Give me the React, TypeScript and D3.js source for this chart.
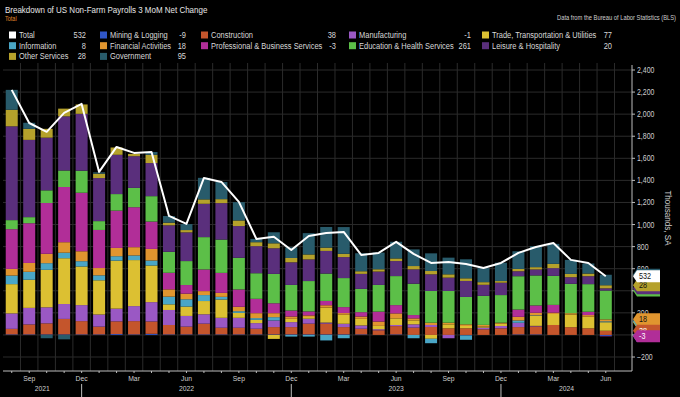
import * as d3 from "d3";

const months = ["Aug 2021","Sep 2021","Oct 2021","Nov 2021","Dec 2021","Jan 2022","Feb 2022","Mar 2022","Apr 2022","May 2022","Jun 2022","Jul 2022","Aug 2022","Sep 2022","Oct 2022","Nov 2022","Dec 2022","Jan 2023","Feb 2023","Mar 2023","Apr 2023","May 2023","Jun 2023","Jul 2023","Aug 2023","Sep 2023","Oct 2023","Nov 2023","Dec 2023","Jan 2024","Feb 2024","Mar 2024","Apr 2024","May 2024","Jun 2024"];

const total = [2220,1920,1840,2011,2093,1477,1703,1649,1658,1078,1006,1422,1386,1205,870,890,770,897,924,933,725,743,843,734,652,661,643,607,652,743,797,833,680,652,532];
const mining = [5,5,5,5,5,5,8,5,10,5,5,5,5,5,5,5,5,5,5,5,5,0,5,0,0,0,-5,0,0,5,5,0,0,0,-9];
const construction = [50,90,100,140,120,70,115,120,112,85,70,97,60,60,51,66,66,97,97,66,51,42,75,66,72,60,60,51,60,66,72,90,70,60,38];
const manufacturing = [140,150,145,135,145,110,115,136,175,136,97,85,90,90,51,60,45,45,10,30,30,10,10,30,18,-30,0,15,21,39,5,0,0,0,-1];
const trade = [265,255,340,415,350,310,435,417,332,51,85,120,166,45,30,-36,30,15,136,82,60,30,60,36,-35,36,21,10,21,0,90,100,115,105,77];
const information = [78,72,60,50,48,45,40,42,45,70,66,54,24,15,15,30,-15,-15,-50,-30,0,0,0,-30,-40,0,-39,0,0,21,5,0,0,0,8];
const financial = [60,80,85,95,90,66,75,75,105,66,51,36,36,40,45,36,21,15,21,15,21,39,45,18,21,15,15,15,9,33,24,12,12,15,18];
const professional = [360,360,460,500,530,345,338,362,248,150,78,196,181,157,130,90,54,36,39,54,39,90,75,30,0,0,0,0,0,66,66,70,0,30,-3];
const education = [82,55,115,150,200,80,150,175,230,190,217,293,302,287,232,266,232,275,248,263,211,242,263,284,287,287,248,263,250,302,272,263,266,250,261];
const leisure = [850,700,477,490,515,390,356,287,300,240,260,302,330,287,245,232,205,196,205,190,136,121,136,130,151,121,145,100,112,45,54,70,60,72,20];
const otherServices = [150,100,80,70,85,40,66,21,75,24,21,40,36,51,36,45,39,45,30,30,24,21,24,30,30,30,24,24,15,21,21,39,30,24,28];
const government = [180,55,-30,-40,0,12,0,0,25,60,54,195,155,166,30,100,97,193,187,242,163,151,151,151,160,151,172,127,166,160,190,181,127,91,95];

const series = [
  {key: "mining", name: "Mining & Logging", color: "#3056c8", values: mining, dark: false},
  {key: "construction", name: "Construction", color: "#c4552c", values: construction, dark: false},
  {key: "manufacturing", name: "Manufacturing", color: "#9a58c4", values: manufacturing, dark: false},
  {key: "trade", name: "Trade, Transportation & Utilities", color: "#dcc032", values: trade, dark: true},
  {key: "information", name: "Information", color: "#4aa6c6", values: information, dark: true},
  {key: "financial", name: "Financial Activities", color: "#e0952f", values: financial, dark: true},
  {key: "professional", name: "Professional & Business Services", color: "#b12e98", values: professional, dark: false},
  {key: "education", name: "Education & Health Services", color: "#5cbf48", values: education, dark: true},
  {key: "leisure", name: "Leisure & Hospitality", color: "#5a2f7c", values: leisure, dark: false},
  {key: "other", name: "Other Services", color: "#b5a12b", values: otherServices, dark: true},
  {key: "government", name: "Government", color: "#285b6b", values: government, dark: false},
];

// legend grid, row by row as on the terminal
const legendRows = [
  ["total", "mining", "construction", "manufacturing", "trade"],
  ["information", "financial", "professional", "education", "leisure"],
  ["other", "government"],
];
const legendColX = [9, 100, 201, 349, 482];
const legendValX = [86, 186, 336, 471, 612];
const tagOrder = ["government", "education", "leisure", "other", "trade", "information", "financial", "mining", "manufacturing", "construction", "professional"];

const yTicks = d3.range(-200, 2401, 200);
const monthLabelNames = ["Sep", "Dec", "Mar", "Jun"];
const years = ["2021", "2022", "2023", "2024"];

const W = 680, H = 397;
const plot = {left: 3, right: 632, top: 63, bottom: 371};
const font = "'Liberation Sans', Arial, sans-serif";
const SX = 0.85; // narrow the glyphs like the terminal font

function T({x, y, size, fill, anchor = "start", children}: any) {
  return (
    <text transform={`translate(${x},${y}) scale(${SX},1)`} fontSize={size} fill={fill} textAnchor={anchor}>{children}</text>
  );
}

export default function App() {
  const x = d3.scaleLinear().domain([-0.5, months.length + 0.5]).range([plot.left, plot.right]);
  const y = d3.scaleLinear().domain([-200, 2400]).range([357, 70]);
  const barW = 12;

  const rows = months.map((m, i) => {
    const r: any = {i};
    series.forEach(s => r[s.key] = s.values[i]);
    return r;
  });
  const stack = d3.stack().keys(series.map(s => s.key)).offset(d3.stackOffsetDiverging)(rows);

  const line = d3.line<number>().x((d, i) => x(i)).y(d => y(d));
  const last = months.length - 1;
  const byKey: any = {};
  series.forEach(s => byKey[s.key] = s);
  byKey.total = {key: "total", name: "Total", color: "#ffffff", values: total, dark: true};

  const tagY = (key: string) => {
    if (key === "total") return y(total[last]);
    const layer = stack.find(l => l.key === key)!;
    const d = layer[last];
    const v = byKey[key].values[last];
    return y(v >= 0 ? d[1] : d[0]);
  };

  const tag = (key: string) => {
    const s = byKey[key];
    const ty = tagY(key);
    const x0 = plot.right + 1, x1 = 660;
    return (
      <g key={"tag" + key}>
        <path d={`M${x0},${ty} L${x0 + 4},${ty - 6} L${x1},${ty - 6} L${x1},${ty + 6} L${x0 + 4},${ty + 6} Z`} fill={s.color}/>
        <T x={x0 + 6} y={ty + 3} size={8.5} fill={s.dark ? "#111" : "#fff"}>{s.values[last]}</T>
      </g>
    );
  };

  const decIdx = months.map((m, i) => m.startsWith("Dec") ? i : -1).filter(i => i >= 0);
  const bounds = [-0.5, ...decIdx, months.length + 0.5];

  return (
    <svg width={W} height={H} style={{position: "absolute", left: 0, top: 0, background: "#000"}} fontFamily={font}>
      <rect width={W} height={H} fill="#000"/>
      <T x={5} y={13} size={9.4} fill="#e6e6e6">Breakdown of US Non-Farm Payrolls 3 MoM Net Change</T>
      <T x={5} y={20.5} size={6.5} fill="#e0892a">Total</T>
      <T x={676} y={20} size={6.8} fill="#cfcfcf" anchor="end">Data from the Bureau of Labor Statistics (BLS)</T>

      {legendRows.map((row, ri) => row.map((key, ci) => {
        const s = byKey[key];
        const cy = 35 + ri * 10.7;
        return (
          <g key={key}>
            <rect x={legendColX[ci]} y={cy - 3.5} width={7} height={7} fill={s.color}/>
            <T x={legendColX[ci] + 10} y={cy + 3} size={8.8} fill="#d8d8d8">{s.name}</T>
            <T x={legendValX[ci]} y={cy + 3} size={8.8} fill="#d8d8d8" anchor="end">{s.values[last]}</T>
          </g>
        );
      }))}

      {/* grid */}
      {yTicks.map(t => (
        <line key={"gy" + t} x1={plot.left} x2={plot.right} y1={y(t)} y2={y(t)} stroke="#2b2b2b" strokeWidth={1}/>
      ))}
      {months.map((m, i) => (
        <line key={"gx" + i} x1={x(i + 0.5)} x2={x(i + 0.5)} y1={plot.top} y2={plot.bottom} stroke="#2b2b2b" strokeWidth={1}/>
      ))}

      {/* bars */}
      {stack.map(layer => (
        <g key={layer.key} fill={byKey[layer.key].color}>
          {layer.map((d, i) => (
            <rect key={i} x={x(i) - barW / 2} width={barW} y={y(Math.max(d[0], d[1]))} height={Math.abs(y(d[0]) - y(d[1]))}/>
          ))}
        </g>
      ))}

      <path d={line(total) || ""} fill="none" stroke="#fff" strokeWidth={2} strokeLinejoin="round"/>

      {/* right axis */}
      <line x1={plot.right} x2={plot.right} y1={plot.top + 2} y2={plot.bottom} stroke="#bdbdbd"/>
      {yTicks.map(t => (
        <g key={"yt" + t}>
          <line x1={plot.right} x2={plot.right + 3} y1={y(t)} y2={y(t)} stroke="#bdbdbd"/>
          <T x={plot.right + 5} y={y(t) + 3} size={8.2} fill="#cfcfcf">{d3.format(",")(t)}</T>
        </g>
      ))}
      <text transform={`translate(665,218) rotate(90) scale(${SX},1)`} fontSize={9.5} fill="#cfcfcf" textAnchor="middle">Thousands, SA</text>

      {tagOrder.map(k => tag(k))}
      {tag("total")}

      {/* bottom axis */}
      <line x1={plot.left} x2={plot.right} y1={plot.bottom} y2={plot.bottom} stroke="#bdbdbd"/>
      {months.map((m, i) => (
        <line key={"xt" + i} x1={x(i)} x2={x(i)} y1={plot.bottom} y2={plot.bottom + 2} stroke="#bdbdbd"/>
      ))}
      {months.map((m, i) => monthLabelNames.includes(m.slice(0, 3)) ? (
        <T key={"ml" + i} x={x(i)} y={plot.bottom + 10} size={8} fill="#cfcfcf" anchor="middle">{m.slice(0, 3)}</T>
      ) : null)}
      {decIdx.map(i => (
        <line key={"sep" + i} x1={x(i)} x2={x(i)} y1={plot.bottom + 13} y2={H} stroke="#bdbdbd"/>
      ))}
      {years.map((yr, k) => (
        <T key={yr} x={x((bounds[k] + bounds[k + 1]) / 2)} y={plot.bottom + 20} size={8} fill="#cfcfcf" anchor="middle">{yr}</T>
      ))}
    </svg>
  );
}
